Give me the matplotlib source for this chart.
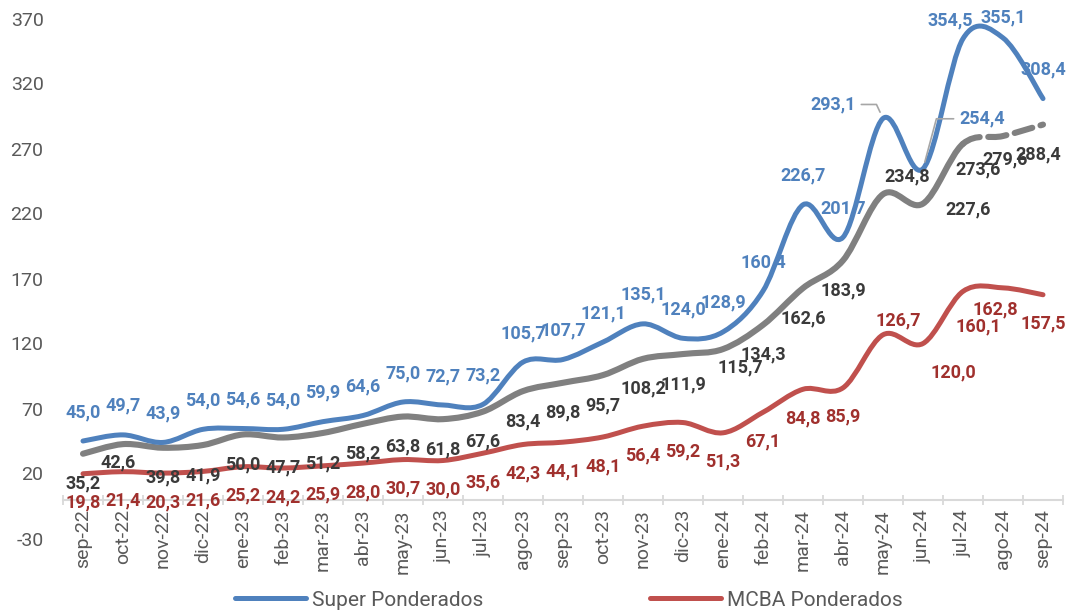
import matplotlib
matplotlib.use('Agg')
import matplotlib.pyplot as plt
import numpy as np
from matplotlib.path import Path
from matplotlib.patches import PathPatch
from matplotlib.lines import Line2D

plt.rcParams['font.family'] = ['Roboto', 'DejaVu Sans']
plt.rcParams['axes.unicode_minus'] = False

months = ['sep-22', 'oct-22', 'nov-22', 'dic-22', 'ene-23', 'feb-23', 'mar-23',
          'abr-23', 'may-23', 'jun-23', 'jul-23', 'ago-23', 'sep-23', 'oct-23',
          'nov-23', 'dic-23', 'ene-24', 'feb-24', 'mar-24', 'abr-24', 'may-24',
          'jun-24', 'jul-24', 'ago-24', 'sep-24']
super_pond = [45.0, 49.7, 43.9, 54.0, 54.6, 54.0, 59.9, 64.6, 75.0, 72.7, 73.2,
              105.7, 107.7, 121.1, 135.1, 124.0, 128.9, 160.4, 226.7, 201.7,
              293.1, 254.4, 354.5, 355.1, 308.4]
gris = [35.2, 42.6, 39.8, 41.9, 50.0, 47.7, 51.2, 58.2, 63.8, 61.8, 67.6, 83.4,
        89.8, 95.7, 108.2, 111.9, 115.7, 134.3, 162.6, 183.9, 234.8, 227.6,
        273.6, 279.6, 288.4]
mcba_pond = [19.8, 21.4, 20.3, 21.6, 25.2, 24.2, 25.9, 28.0, 30.7, 30.0, 35.6,
             42.3, 44.1, 48.1, 56.4, 59.2, 51.3, 67.1, 84.8, 85.9, 126.7, 120.0,
             160.1, 162.8, 157.5]

BLUE = '#4F81BD'
RED = '#C0504D'
GRAY = '#808080'

# label offsets in pixels (x right, y up); defaults per series + a few moved by hand
blue_off = {20: (-50, 14), 21: (59, 50), 22: (-13, 18), 23: (0, 20)}
gray_off = {1: (-5, -18), 16: (17, -18), 20: (24, 18), 21: (45, -6),
            22: (15, -26), 23: (2, -23), 24: (-5, -30)}
red_off = {20: (15, 14), 21: (30, -29), 22: (15, -35), 23: (-8, -22)}


def smooth_segments(xs, ys):
    # excel-like smoothed line: one bezier per segment
    pts = np.column_stack([xs, ys]).astype(float)
    n = len(pts)
    segs = []
    for i in range(n - 1):
        p0 = pts[max(i - 1, 0)]
        p1 = pts[i]
        p2 = pts[i + 1]
        p3 = pts[min(i + 2, n - 1)]
        segs.append((p1, p1 + (p2 - p0) / 6, p2 - (p3 - p1) / 6, p2))
    return segs


def make_path(segs):
    verts = [segs[0][0]]
    codes = [Path.MOVETO]
    for s in segs:
        verts += [s[1], s[2], s[3]]
        codes += [Path.CURVE4] * 3
    return Path(verts, codes)


fig = plt.figure(figsize=(10.7, 6.1), dpi=100)
ax = fig.add_axes([63 / 1070, 1 - 538.5 / 610, 1000 / 1070, 520 / 610])

x = np.arange(len(months))

segs_b = smooth_segments(x, super_pond)
segs_g = smooth_segments(x, gris)
segs_r = smooth_segments(x, mcba_pond)

ax.add_patch(PathPatch(make_path(segs_g[:22]), fill=False, edgecolor=GRAY, lw=4.4,
                       capstyle='round', joinstyle='round', zorder=3))
ax.add_patch(PathPatch(make_path(segs_g[22:]), fill=False, edgecolor=GRAY, lw=4.4,
                       linestyle=(0, (3, 1.4)), capstyle='round', zorder=3))
ax.add_patch(PathPatch(make_path(segs_b), fill=False, edgecolor=BLUE, lw=3.6,
                       capstyle='round', joinstyle='round', zorder=4))
ax.add_patch(PathPatch(make_path(segs_r), fill=False, edgecolor=RED, lw=3.6,
                       capstyle='round', joinstyle='round', zorder=4))


def fmt(v):
    return f'{v:.1f}'.replace('.', ',')


for i, v in enumerate(super_pond):
    dx, dy = blue_off.get(i, (0, 29))
    kw = {}
    if i == 20:
        kw['arrowprops'] = dict(arrowstyle='-', color='#A6A6A6', lw=1.2, relpos=(1, 0.5),
                                shrinkA=2, shrinkB=5,
                                connectionstyle='angle,angleA=0,angleB=115,rad=0')
    elif i == 21:
        kw['arrowprops'] = dict(arrowstyle='-', color='#A6A6A6', lw=1.2, relpos=(0, 0.5),
                                shrinkA=2, shrinkB=5,
                                connectionstyle='angle,angleA=0,angleB=75,rad=0')
    ax.annotate(fmt(v), (i, v), xytext=(dx, dy), textcoords='offset pixels',
                ha='center', va='center', fontsize=13, fontweight='bold',
                color=BLUE, zorder=6, **kw)

for i, v in enumerate(gris):
    dx, dy = gray_off.get(i, (0, -30))
    ax.annotate(fmt(v), (i, v), xytext=(dx, dy), textcoords='offset pixels',
                ha='center', va='center', fontsize=13, fontweight='bold',
                color='#3A3A3A', zorder=6)

for i, v in enumerate(mcba_pond):
    dx, dy = red_off.get(i, (0, -29))
    ax.annotate(fmt(v), (i, v), xytext=(dx, dy), textcoords='offset pixels',
                ha='center', va='center', fontsize=13, fontweight='bold',
                color='#A0302D', zorder=6)

ax.set_xlim(-0.5, len(months) - 0.5)
ax.set_ylim(-30, 370)
ax.set_yticks(np.arange(-30, 371, 50))

ax.set_xticks(x)
ax.set_xticklabels(months)
ax.set_xticks(np.arange(-0.5, len(months), 1), minor=True)
ax.tick_params(axis='x', which='major', length=0, pad=7, labelsize=14,
               labelcolor='#595959', labelrotation=90)
ax.tick_params(axis='x', which='minor', length=7, direction='inout', color='#D9D9D9', width=1.3)
ax.tick_params(axis='y', length=0, pad=14, labelsize=14, labelcolor='#595959')

for s in ['left', 'top', 'right']:
    ax.spines[s].set_visible(False)
ax.spines['bottom'].set_position(('data', 0))
ax.spines['bottom'].set_color('#D9D9D9')
ax.spines['bottom'].set_linewidth(1.5)

handles = [Line2D([], [], color=BLUE, lw=3.6, solid_capstyle='round'),
           Line2D([], [], color=RED, lw=3.6, solid_capstyle='round')]
fig.legend(handles, ['Super Ponderados', 'MCBA Ponderados'], loc='center',
           bbox_to_anchor=(569 / 1070, 1 - 600 / 610), ncol=2, frameon=False,
           fontsize=15, handlelength=3.4, handletextpad=0.3, columnspacing=8.0,
           labelcolor='#595959')

fig.savefig('out.png', dpi=100)
